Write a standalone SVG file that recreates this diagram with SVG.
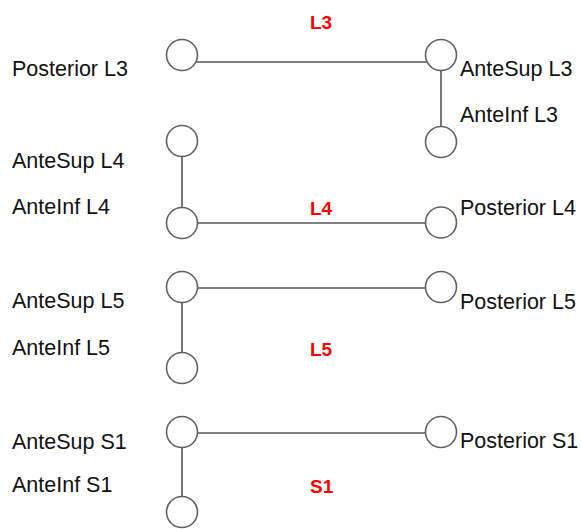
<svg xmlns="http://www.w3.org/2000/svg" width="582" height="529" viewBox="0 0 582 529">
<style>
.n{fill:#fff;stroke:#606060;stroke-width:1.6}
.c line{stroke:#555;stroke-width:1.6}
text{font-family:"Liberation Sans",Arial,sans-serif;font-size:21.5px;fill:#111}
.r{fill:#ff0000;font-weight:bold;font-size:19px}
</style>
<rect width="582" height="529" fill="#fff"/>
<g id="connectors" class="c">
<line x1="196" y1="62" x2="427" y2="62"/>
<line x1="441" y1="70.5" x2="441" y2="126.5"/>
<line x1="182" y1="156.5" x2="182" y2="207.5"/>
<line x1="197.5" y1="223" x2="425.5" y2="223"/>
<line x1="197.5" y1="288" x2="425.5" y2="288"/>
<line x1="182" y1="302.5" x2="182" y2="352.5"/>
<line x1="197.5" y1="433" x2="425.5" y2="433"/>
<line x1="182" y1="447.5" x2="182" y2="496.5"/>
</g>
<g id="posterior-l3"><circle class="n" cx="182" cy="55" r="15.5"/><text x="12" y="76">Posterior L3</text></g>
<g id="antesup-l3"><circle class="n" cx="441" cy="55" r="15.5"/><text x="460" y="76">AnteSup L3</text></g>
<g id="anteinf-l3"><circle class="n" cx="441" cy="142" r="15.5"/><text x="460" y="122">AnteInf L3</text></g>
<g id="antesup-l4"><circle class="n" cx="182" cy="141" r="15.5"/><text x="12" y="168">AnteSup L4</text></g>
<g id="anteinf-l4"><circle class="n" cx="182" cy="223" r="15.5"/><text x="12" y="214">AnteInf L4</text></g>
<g id="posterior-l4"><circle class="n" cx="441" cy="222.5" r="15.5"/><text x="460" y="215">Posterior L4</text></g>
<g id="antesup-l5"><circle class="n" cx="182" cy="287" r="15.5"/><text x="12" y="308">AnteSup L5</text></g>
<g id="anteinf-l5"><circle class="n" cx="182" cy="368" r="15.5"/><text x="12" y="355">AnteInf L5</text></g>
<g id="posterior-l5"><circle class="n" cx="441" cy="287" r="15.5"/><text x="460" y="309">Posterior L5</text></g>
<g id="antesup-s1"><circle class="n" cx="182" cy="432" r="15.5"/><text x="12" y="449">AnteSup S1</text></g>
<g id="anteinf-s1"><circle class="n" cx="182" cy="512" r="15.5"/><text x="12" y="492">AnteInf S1</text></g>
<g id="posterior-s1"><circle class="n" cx="441" cy="432" r="15.5"/><text x="460" y="448">Posterior S1</text></g>
<g id="labels">
<text class="r" x="310" y="29">L3</text>
<text class="r" x="310" y="215">L4</text>
<text class="r" x="310" y="356">L5</text>
<text class="r" x="310" y="493">S1</text>
</g>
</svg>
